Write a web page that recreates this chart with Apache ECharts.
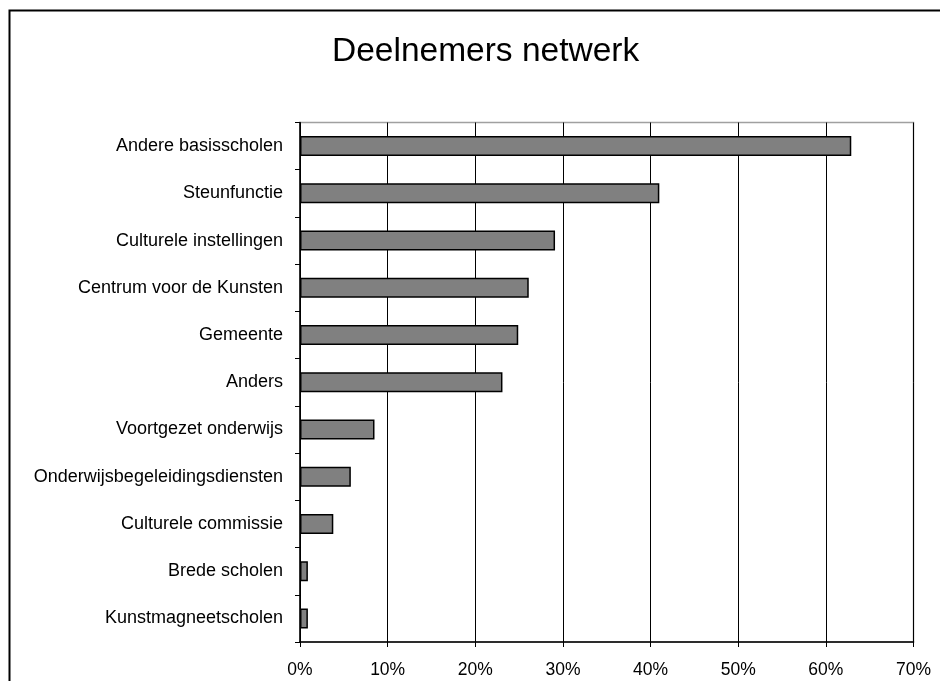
<!DOCTYPE html>
<html>
<head>
<meta charset="utf-8">
<script src="https://cdn.jsdelivr.net/npm/echarts@6/dist/echarts.min.js"></script>
<style>html,body{margin:0;padding:0;background:#fff;}#c{width:940px;height:681px;}</style>
</head>
<body>
<div id="c"></div>
<script>
var titleText = 'Deelnemers netwerk';
var categories = ['Andere basisscholen','Steunfunctie','Culturele instellingen','Centrum voor de Kunsten','Gemeente','Anders','Voortgezet onderwijs','Onderwijsbegeleidingsdiensten','Culturele commissie','Brede scholen','Kunstmagneetscholen'];
var values = [62.9, 41.0, 29.1, 26.1, 24.9, 23.1, 8.5, 5.8, 3.8, 0.9, 0.9];
var xMin = 0, xMax = 70, xStep = 10;

var chart = echarts.init(document.getElementById('c'), null, {renderer:'canvas'});
chart.setOption({
  backgroundColor: '#fff',
  animation: false,
  textStyle: {fontFamily: 'Liberation Sans, Arial, sans-serif'},
  title: {
    text: titleText, left: 327, top: 30,
    textStyle: {fontFamily: 'Liberation Sans, Arial, sans-serif', fontSize: 33.5, fontWeight: 'normal', color: '#000'}
  },
  graphic: [{
    type: 'rect', left: 7, top: 8, z: -1,
    shape: {x: 0, y: 0, width: 1000, height: 1000},
    style: {fill: 'none', stroke: '#000', lineWidth: 2}
  }],
  grid: {left: 300, top: 122.5, right: 26.5, bottom: 39, show: true, borderColor: '#a0a0a0', borderWidth: 1.5},
  xAxis: {
    type: 'value', min: xMin, max: xMax, interval: xStep,
    axisLine: {show: true, lineStyle: {color: '#000', width: 1.5}},
    axisTick: {show: true, length: 5, lineStyle: {color: '#000'}},
    axisLabel: {formatter: '{value}%', color: '#000', fontSize: 17.5, margin: 19},
    splitLine: {show: true, lineStyle: {color: '#000', width: 1}}
  },
  yAxis: {
    type: 'category', data: categories, inverse: true,
    axisLine: {show: true, lineStyle: {color: '#000', width: 1.5}},
    axisTick: {show: true, length: 5, lineStyle: {color: '#000'}},
    axisLabel: {color: '#000', fontSize: 18, margin: 17}
  },
  series: [{
    type: 'bar', data: values, barWidth: 20,
    itemStyle: {color: '#808080', borderColor: '#000', borderWidth: 1.5}
  }]
});
</script>
</body>
</html>
